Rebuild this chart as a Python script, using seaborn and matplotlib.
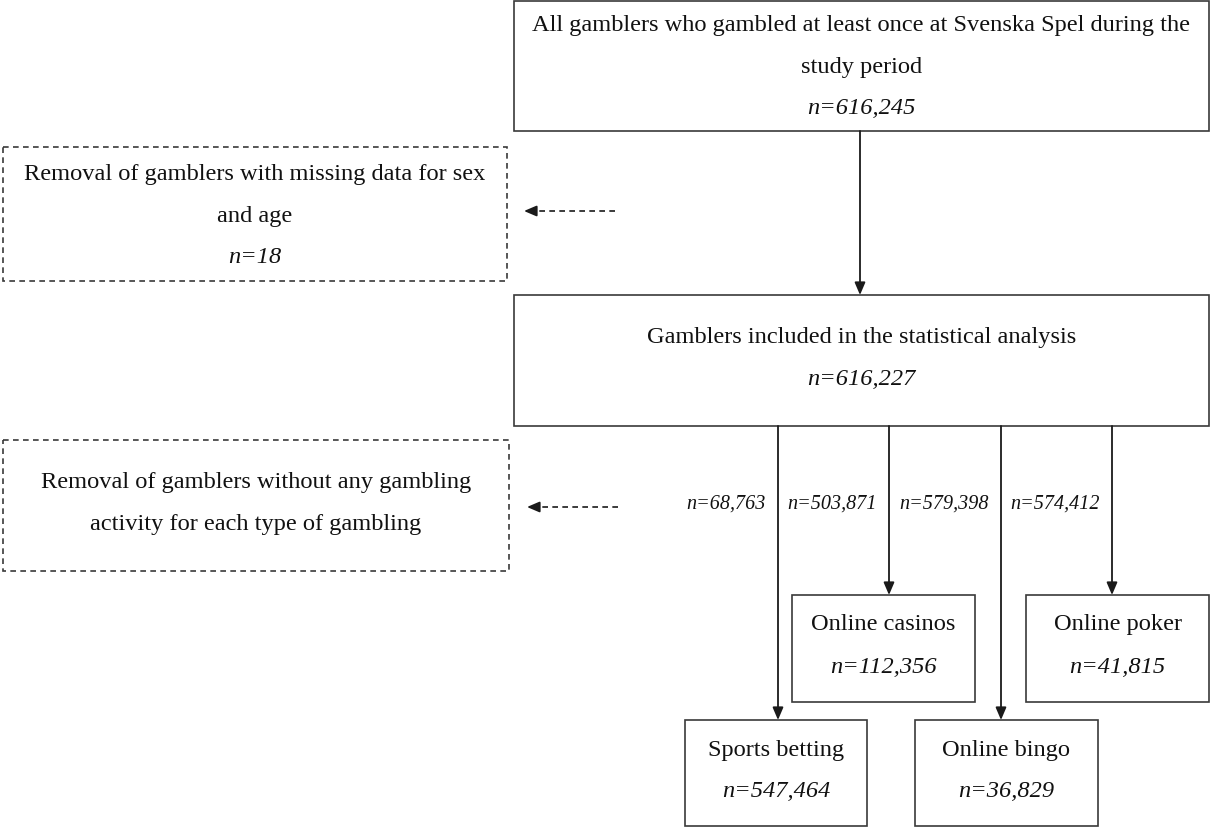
import matplotlib
matplotlib.use("Agg")
import matplotlib.pyplot as plt
from matplotlib.patches import Rectangle
import seaborn as sns

# ---------------- data ----------------
main_titles = [
    ["All gamblers who gambled at least once at Svenska Spel during the", "study period"],
    ["Gamblers included in the statistical analysis"],
]
main_counts = ["n=616,245", "n=616,227"]

removal_titles = [
    ["Removal of gamblers with missing data for sex", "and age"],
    ["Removal of gamblers without any gambling", "activity for each type of gambling"],
]
removal_counts = ["n=18", None]

types = ["Sports betting", "Online casinos", "Online bingo", "Online poker"]
type_counts = ["n=547,464", "n=112,356", "n=36,829", "n=41,815"]
removed_counts = ["n=68,763", "n=503,871", "n=579,398", "n=574,412"]

# ---------------- layout (pixels, y downward) ----------------
W, H = 1211, 829
main_boxes = [(514, 2, 1209, 132), (514, 296, 1209, 427)]
main_baselines = [[31, 73, 114], [343, 385]]
rem_boxes = [(3, 148, 507, 282), (3, 441, 509, 572)]
rem_baselines = [[180, 222, 263], [488, 530]]
rem_arrows = [(615, 524, 212), (618, 527, 508)]
type_line_x = [778, 889, 1001, 1112]
type_boxes = [(685, 721, 867, 827), (792, 596, 975, 703),
              (915, 721, 1098, 827), (1026, 596, 1209, 703)]
type_baselines = [(756, 797), (630, 673), (756, 797), (630, 673)]
label_baseline = 509

sns.set_theme(style="white")
plt.rcParams["font.family"] = ["Liberation Serif", "DejaVu Serif"]

fig = plt.figure(figsize=(W / 100, H / 100), dpi=100)
ax = fig.add_axes([0, 0, 1, 1])
ax.set_xlim(0, W)
ax.set_ylim(H, 0)
ax.axis("off")

EDGE = "#3a3a3a"
LINE = "#1a1a1a"
TXT = "#111111"
FS = 17.6
FS_SMALL = 14.5


def box(b, dashed=False):
    x0, y0, x1, y1 = b
    ls = (0, (3.4, 2.6)) if dashed else "-"
    ax.add_patch(Rectangle((x0, y0), x1 - x0, y1 - y0, fill=False,
                           edgecolor=EDGE, lw=1.2, linestyle=ls))


def arrow(x0, y0, x1, y1):
    ax.annotate("", xy=(x1, y1), xytext=(x0, y0),
                arrowprops=dict(arrowstyle="-|>,head_length=0.75,head_width=0.32",
                                mutation_scale=10, lw=1.3, color=LINE,
                                shrinkA=0, shrinkB=0))


# main boxes
for b, lines, cnt, bl in zip(main_boxes, main_titles, main_counts, main_baselines):
    box(b)
    cx = (b[0] + b[2]) / 2
    for t, y in zip(lines + [cnt], bl):
        ax.text(cx, y, t, ha="center", va="baseline", fontsize=FS, color=TXT,
                style="italic" if t == cnt else "normal")

# arrow between main boxes
arrow(860, main_boxes[0][3], 860, main_boxes[1][1])

# removal boxes
for b, lines, cnt, bl in zip(rem_boxes, removal_titles, removal_counts, rem_baselines):
    box(b, dashed=True)
    cx = (b[0] + b[2]) / 2
    items = lines + ([cnt] if cnt else [])
    for t, y in zip(items, bl):
        ax.text(cx, y, t, ha="center", va="baseline", fontsize=FS, color=TXT,
                style="italic" if t == cnt else "normal")

for xs, xe, y in rem_arrows:
    ax.plot([xs, xe + 8], [y, y], color=LINE, lw=1.2, linestyle=(0, (3.4, 2.6)))
    arrow(xe + 10, y, xe, y)

# type boxes and connectors
for lx, b, name, cnt, bl, rem in zip(type_line_x, type_boxes, types, type_counts,
                                     type_baselines, removed_counts):
    arrow(lx, main_boxes[1][3], lx, b[1])
    box(b)
    cx = (b[0] + b[2]) / 2
    ax.text(cx, bl[0], name, ha="center", va="baseline", fontsize=FS, color=TXT)
    ax.text(cx, bl[1], cnt, ha="center", va="baseline", fontsize=FS, color=TXT,
            style="italic")
    ax.text(lx - 12, label_baseline, rem, ha="right", va="baseline",
            fontsize=FS_SMALL, color=TXT, style="italic")

fig.savefig("out.png", dpi=100, facecolor="white")
